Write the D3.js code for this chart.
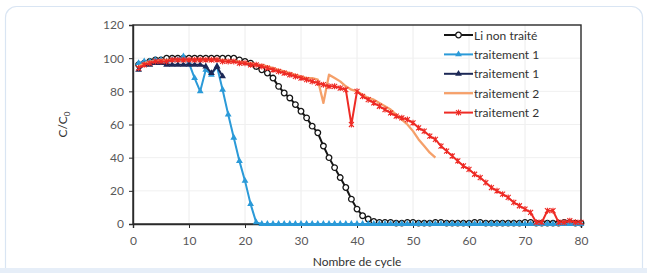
<!DOCTYPE html>
<html>
<head>
<meta charset="utf-8">
<script src="https://cdn.jsdelivr.net/npm/d3@7"></script>
<style>
  html, body { margin: 0; padding: 0; background: #fff; }
  svg { display: block; font-family: Lato, "Open Sans", sans-serif; }
</style>
</head>
<body>
<svg id="chart" width="647" height="273"></svg>
<script>
// values, one per cycle starting at cycle 1
const liNonTraite = [96, 97, 98, 99, 99, 100, 100, 100, 100, 100, 100, 100, 100, 100, 100, 100, 100, 100, 99, 98,
    97, 95, 93, 91, 88, 83, 79, 76, 72, 68, 64, 59, 55, 47, 40, 34, 28, 22, 15, 9,
    5, 3, 1.5, 1, 1, 1, 0.5, 0.5, 1, 1, 0.5, 0.5, 0.5, 1, 1, 0.5, 0.5, 0.5, 0.5, 0.5,
    1, 1, 0.5, 0.5, 0.5, 0.5, 0.5, 0.5, 0.5, 1, 1, 0.5, 0.5, 0.5, 0.5, 0.5, 1, 1, 0.5, 0.5];
const traitement1a = [97, 98, 98, 99, 99, 98, 99, 99, 101, 97, 88, 80, 93, 90, 95, 81, 66, 52, 38, 26,
    12, 1, 0, 0, 0, 0, 0, 0, 0, 0, 0, 0, 0, 0, 0, 0, 0, 0, 0, 0,
    0, 0, 0, 0, 0, 0, 0, 0, 0, 0, 0, 0, 0, 0, 0, 0, 0, 0, 0, 0,
    0, 0, 0, 0, 0, 0, 0, 0, 0, 0, 0, 0, 0, 0, 0, 0, 0, 0, 0, 0];
const traitement1b = [93, 96, 96, 97, 97, 96, 96, 96, 96, 96, 96, 96, 95, 91, 95, 89];
const traitement2a = [95, 97, 98, 98, 99, 99, 99, 99, 99, 99, 99, 99, 99, 99, 99, 99, 98, 98, 98, 97,
    97, 96, 96, 95, 94, 93, 92, 91, 90, 89, 88, 88, 87, 73, 90, 88, 86, 83, 81, 80,
    78, 76, 75, 73, 71, 69, 66, 63, 60, 56, 51, 47, 43, 40];
const traitement2b = [94, 96, 97, 98, 98, 98, 99, 99, 99, 99, 99, 99, 99, 99, 99, 98, 98, 98, 97, 97,
    96, 96, 95, 94, 93, 92, 91, 90, 89, 88, 87, 86, 85, 84, 83, 83, 82, 81, 60, 80,
    77, 75, 73, 71, 69, 67, 65, 64, 63, 61, 58, 56, 53, 51, 47, 44, 41, 38, 35, 33,
    30, 28, 25, 22, 20, 18, 16, 13, 11, 9, 7, 1, 1, 8, 8, 1, 1, 2, 1, 1];

const xTicks = [0, 10, 20, 30, 40, 50, 60, 70, 80];
const yTicks = [0, 20, 40, 60, 80, 100, 120];

const series = [
    { name: 'Li non traité', values: liNonTraite, color: '#151515', marker: 'circle' },
    { name: 'traitement 1', values: traitement1a, color: '#2b9ad8', marker: 'triangle' },
    { name: 'traitement 1', values: traitement1b, color: '#1c2856', marker: 'triangle' },
    { name: 'traitement 2', values: traitement2a, color: '#f5a06a', marker: 'none' },
    { name: 'traitement 2', values: traitement2b, color: '#ee2b25', marker: 'cross' }
];

const svg = d3.select('#chart');

// card around the figure
svg.append('rect')
    .attr('x', 5.5).attr('y', 6.5)
    .attr('width', 637).attr('height', 275)
    .attr('rx', 11)
    .attr('fill', '#fff')
    .attr('stroke', '#d9e5f3')
    .attr('stroke-width', 1.2);
svg.append('rect')
    .attr('x', 0).attr('y', 268)
    .attr('width', 647).attr('height', 5)
    .attr('fill', '#e6eef8');

const margin = { left: 133, top: 25, right: 66, bottom: 49 };
const width = 647 - margin.left - margin.right;
const height = 273 - margin.top - margin.bottom;

const x = d3.scaleLinear().domain([0, 80]).range([0, width]);
const y = d3.scaleLinear().domain([0, 120]).range([height, 0]);

const g = svg.append('g')
    .attr('transform', 'translate(' + margin.left + ',' + margin.top + ')');

// faint gridlines
g.append('g').selectAll('line.vg')
    .data(xTicks.slice(1, -1))
    .enter().append('line')
    .attr('x1', d => x(d)).attr('x2', d => x(d))
    .attr('y1', 0).attr('y2', height)
    .attr('stroke', '#ececec');
g.append('g').selectAll('line.hg')
    .data(yTicks.slice(1, -1))
    .enter().append('line')
    .attr('x1', 0).attr('x2', width)
    .attr('y1', d => y(d)).attr('y2', d => y(d))
    .attr('stroke', '#f0f0f0');

// frame
g.append('rect')
    .attr('width', width).attr('height', height)
    .attr('fill', 'none')
    .attr('stroke', '#2a2a2a')
    .attr('stroke-width', 1.4);

const xAxis = g.append('g')
    .attr('transform', 'translate(0,' + height + ')')
    .call(d3.axisBottom(x).tickValues(xTicks).tickSize(4).tickPadding(8));
const yAxis = g.append('g')
    .call(d3.axisLeft(y).tickValues(yTicks).tickSize(4).tickPadding(5));

[xAxis, yAxis].forEach(a => {
    a.select('.domain').attr('stroke', '#2a2a2a').attr('stroke-width', 1.4);
    a.selectAll('.tick line').attr('stroke', '#2a2a2a');
    a.selectAll('.tick text')
        .attr('fill', '#595959')
        .style('font-size', '12px')
        .style('font-family', 'Lato, "Open Sans", sans-serif');
});

// axis titles
svg.append('text')
    .attr('x', margin.left + width / 2)
    .attr('y', 266)
    .attr('text-anchor', 'middle')
    .attr('fill', '#333')
    .style('font-size', '12px')
    .text('Nombre de cycle');

const yTitle = svg.append('text')
    .attr('transform', 'translate(67,' + (margin.top + height / 2) + ') rotate(-90)')
    .attr('text-anchor', 'middle')
    .attr('fill', '#333')
    .style('font-size', '12px');
yTitle.append('tspan').text('C/C');
yTitle.append('tspan').attr('dy', 3).style('font-size', '8px').text('0');

function drawMarker(sel, s) {
    if (s.marker === 'circle') {
        sel.append('circle')
            .attr('r', 2.8)
            .attr('fill', '#fff')
            .attr('stroke', s.color)
            .attr('stroke-width', 1.3);
    } else if (s.marker === 'triangle') {
        sel.append('path')
            .attr('d', d3.symbol().type(d3.symbolTriangle).size(20))
            .attr('fill', s.color);
    } else if (s.marker === 'cross') {
        sel.append('path')
            .attr('d', 'M-2.5,-2.5L2.5,2.5M-2.5,2.5L2.5,-2.5M0,-3L0,3')
            .attr('stroke', s.color)
            .attr('stroke-width', 1.1)
            .attr('fill', 'none');
    }
}

const line = d3.line()
    .x(d => x(d.cycle))
    .y(d => y(d.value));

series.forEach(s => {
    const pts = s.values.map((v, i) => ({ cycle: i + 1, value: v }));
    g.append('path')
        .datum(pts)
        .attr('fill', 'none')
        .attr('stroke', s.color)
        .attr('stroke-width', s.marker === 'none' ? 2.3 : 2)
        .attr('stroke-linejoin', 'round')
        .attr('d', line);
    const m = g.append('g').selectAll('g')
        .data(pts)
        .enter().append('g')
        .attr('transform', d => 'translate(' + x(d.cycle) + ',' + y(d.value) + ')');
    drawMarker(m, s);
});

// legend
const legend = svg.append('g').attr('transform', 'translate(444,35)');
series.forEach((s, i) => {
    const row = legend.append('g').attr('transform', 'translate(0,' + (i * 19.4) + ')');
    row.append('line')
        .attr('x1', 0).attr('x2', 29)
        .attr('stroke', s.color)
        .attr('stroke-width', s.marker === 'none' ? 2.3 : 2);
    const mk = row.append('g').attr('transform', 'translate(14.5,0)');
    drawMarker(mk, s);
    row.append('text')
        .attr('x', 30).attr('y', 4.5)
        .attr('fill', '#333')
        .style('font-size', '12px')
        .text(s.name);
});
</script>
</body>
</html>
